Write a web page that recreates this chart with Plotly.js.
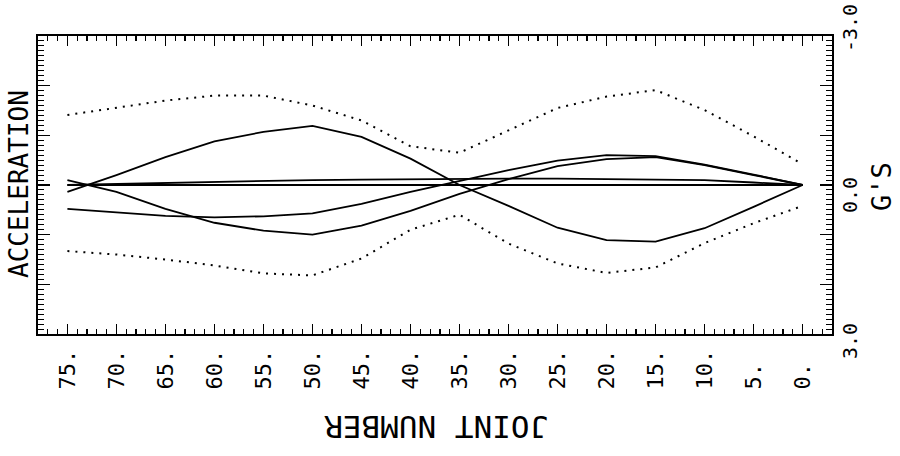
<!DOCTYPE html>
<html><head><meta charset="utf-8">
<script src="https://cdn.plot.ly/plotly-3.0.1.min.js"></script>
<style>html,body{margin:0;padding:0;background:#fff;}#chart{width:900px;height:456px;}</style>
</head><body><div id="chart"></div>
<script>
const joints = [75,70,65,60,55,50,45,40,35,30,25,20,15,10,5,0];
const accelA = [0.14,-0.20,-0.56,-0.88,-1.07,-1.19,-0.97,-0.53,0.00,0.42,0.86,1.11,1.14,0.87,0.44,0.00];
const accelB = [-0.10,0.14,0.48,0.76,0.92,1.00,0.82,0.52,0.18,-0.12,-0.38,-0.52,-0.56,-0.40,-0.20,0.00];
const accelC = [0.48,0.55,0.62,0.65,0.63,0.57,0.38,0.14,-0.08,-0.30,-0.49,-0.60,-0.58,-0.41,-0.21,0.00];
const accelD = [0.00,-0.02,-0.05,-0.07,-0.08,-0.10,-0.11,-0.12,-0.13,-0.13,-0.13,-0.12,-0.11,-0.10,-0.05,0.00];
const accelE = [0,0,0,0,0,0,0,0,0,0,0,0,0,0,0,0];
const envMin = [-1.41,-1.55,-1.70,-1.80,-1.80,-1.60,-1.30,-0.78,-0.65,-1.10,-1.55,-1.78,-1.91,-1.51,-0.98,-0.42];
const envMax = [1.33,1.40,1.50,1.62,1.78,1.82,1.48,0.90,0.60,1.18,1.58,1.77,1.66,1.17,0.77,0.42];
const tickJoints = [75,70,65,60,55,50,45,40,35,30,25,20,15,10,5,0];
const tickText = ["75.","70.","65.","60.","55.","50.","45.","40.","35.","30.","25.","20.","15.","10.","5.\u00a0","0.\u00a0"];
const xTitle = "JOINT NUMBER";
const yTitle = "ACCELERATION";
const unitLabel = "G'S";
const yLabelVals = [-3, 0, 3];
const yLabelText = ["-3.0", "0.0", "3.0"];

const solid = {color:'#000', width:1.8};
const dotted = {color:'#000', width:2, dash:'2px,6px'};
const traces = [accelA, accelB, accelC, accelD, accelE].map(v => ({
  x: joints, y: v, type:'scatter', mode:'lines', line: solid, hoverinfo:'skip'
}));
traces.push({x: joints, y: envMin, type:'scatter', mode:'lines', line: dotted, hoverinfo:'skip'});
traces.push({x: joints, y: envMax, type:'scatter', mode:'lines', line: dotted, hoverinfo:'skip'});

const yShifts = [8, -10, -7];
const annotations = yLabelVals.map((v, i) => ({
  xref:'paper', x:1, xshift:18, xanchor:'center',
  yref:'y', y:v, yshift:yShifts[i], yanchor:'middle',
  text: yLabelText[i], textangle:-90, showarrow:false,
  font:{size:20, family:'DejaVu Sans Mono', color:'#000'}
}));
annotations.push({xref:'paper', x:1, xshift:49, xanchor:'center', yref:'y', y:0, yshift:-2, yanchor:'middle',
  text: unitLabel, textangle:-90, showarrow:false, font:{size:27, family:'DejaVu Sans Mono', color:'#000'}});
annotations.push({xref:'paper', x:0, xshift:-19, xanchor:'center', yref:'y', y:0, yshift:1, yanchor:'middle',
  text: yTitle, textangle:-90, showarrow:false, font:{size:26, family:'DejaVu Sans Mono', color:'#000'}});
annotations.push({xref:'paper', x:0.502, xanchor:'center', yref:'paper', y:0, yshift:-93.5, yanchor:'middle',
  text: xTitle, textangle:180, showarrow:false, font:{size:31, family:'DejaVu Sans Mono', color:'#000'}});

const layout = {
  width:900, height:456,
  margin:{l:38, r:68, t:36, b:122, pad:0},
  paper_bgcolor:'#fff', plot_bgcolor:'#fff', showlegend:false,
  font:{family:'DejaVu Sans Mono', color:'#000'},
  xaxis:{
    range:[78,-3], showgrid:false, zeroline:false, showline:true, linecolor:'#000', linewidth:2,
    mirror:'ticks', ticks:'inside', ticklen:10, tickwidth:1.5, tickcolor:'#000',
    tickmode:'array', tickvals:tickJoints, ticktext:tickText, tickangle:-90,
    tickfont:{size:22, family:'DejaVu Sans Mono', color:'#000'}, ticklabelstandoff:5,
    minor:{ticks:'inside', tickmode:'linear', tick0:0, dtick:1, ticklen:5, tickwidth:1.2, tickcolor:'#000', showgrid:false}
  },
  yaxis:{
    range:[3,-3], showgrid:false, zeroline:false, showline:true, linecolor:'#000', linewidth:2,
    mirror:'ticks', ticks:'inside', ticklen:12, tickwidth:1.5, tickcolor:'#000',
    tickmode:'linear', tick0:0, dtick:1, showticklabels:false,
    minor:{ticks:'inside', tickmode:'linear', tick0:0, dtick:0.1, ticklen:6, tickwidth:1, tickcolor:'#000', showgrid:false}
  },
  annotations: annotations
};
Plotly.newPlot('chart', traces, layout, {staticPlot:true, displayModeBar:false});
</script></body></html>
